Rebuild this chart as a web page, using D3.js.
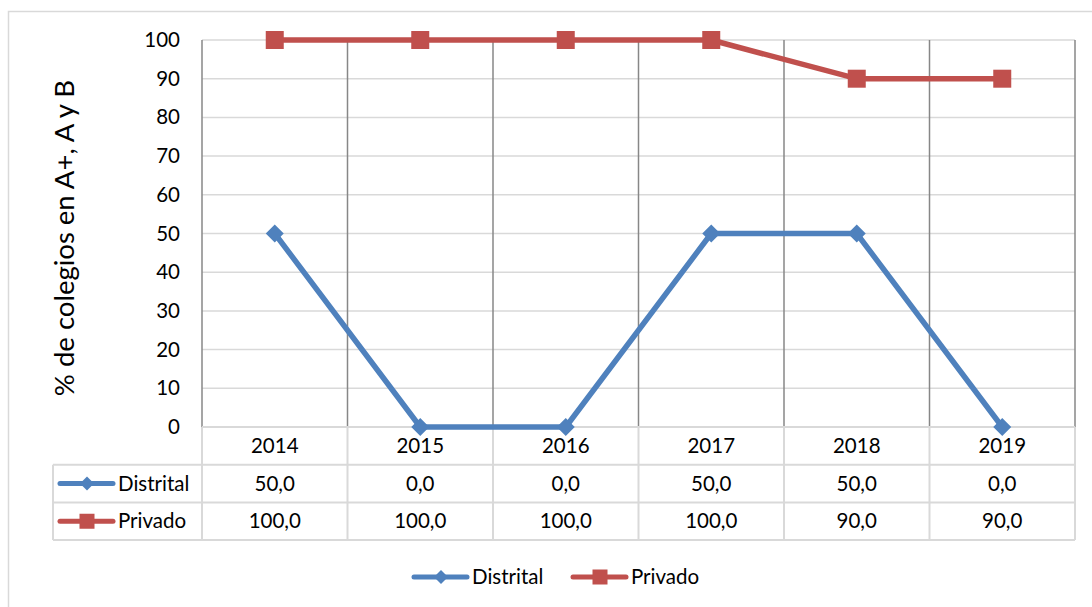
<html>
<head>
  <script src="https://d3js.org/d3.v7.min.js"></script>
  <style>
    body{ margin:0; background:#fff; }
    svg{ display:block; font-family: Lato, "Open Sans", sans-serif; }
  </style>
</head>
<body>
<script type="text/javascript">

  var years = ["2014", "2015", "2016", "2017", "2018", "2019"];
  var distrital = [50, 0, 0, 50, 50, 0];
  var privado = [100, 100, 100, 100, 90, 90];
  var seriesNames = ["Distrital", "Privado"];
  var seriesColors = ["#4F81BD", "#C0504D"];
  var yLabel = "% de colegios en A+, A y B";

  var series = [
    {name: seriesNames[0], values: distrital, color: seriesColors[0], marker: "diamond"},
    {name: seriesNames[1], values: privado, color: seriesColors[1], marker: "square"}
  ];

  var W = 1092, H = 607;
  var plot = {left: 202, right: 1075, top: 40, bottom: 427};
  var rowH = 37.7;
  var tableLeft = 53;
  var fontSize = 20.5;

  var svg = d3.select("body").append("svg")
      .attr("width", W)
      .attr("height", H);

  // outer chart frame
  svg.append("rect")
     .attr("x", 8.5).attr("y", 11.5)
     .attr("width", 1100).attr("height", 620)
     .attr("fill", "none").attr("stroke", "#d9d9d9").attr("stroke-width", 1.5);

  var xScale = d3.scaleBand().domain(years).range([plot.left, plot.right]).padding(0);
  var yScale = d3.scaleLinear().domain([0, 100]).range([plot.bottom, plot.top]);
  var cx = function(i){ return xScale(years[i]) + xScale.bandwidth() / 2; };

  // horizontal gridlines
  svg.append("g").selectAll("line")
     .data(yScale.ticks(10).filter(function(d){ return d > 0; }))
     .enter().append("line")
     .attr("x1", plot.left).attr("x2", plot.right)
     .attr("y1", function(d){ return yScale(d); })
     .attr("y2", function(d){ return yScale(d); })
     .attr("stroke", "#d9d9d9").attr("stroke-width", 1.5);

  // vertical category separators
  var bounds = years.map(function(y){ return xScale(y); }).concat([plot.right]);
  svg.append("g").selectAll("line")
     .data(bounds)
     .enter().append("line")
     .attr("x1", function(d){ return d; }).attr("x2", function(d){ return d; })
     .attr("y1", plot.top).attr("y2", plot.bottom)
     .attr("stroke", "#878787").attr("stroke-width", 1.5);

  // y axis
  var yAxis = d3.axisLeft(yScale).ticks(10).tickSize(0).tickPadding(22);
  var yG = svg.append("g")
     .attr("transform", "translate(" + plot.left + ",0)")
     .call(yAxis);
  yG.select(".domain").remove();
  yG.selectAll("text")
    .attr("font-size", fontSize).attr("fill", "#000")
    .attr("font-family", "Lato, sans-serif");

  // y label
  svg.append("text")
     .attr("transform", "translate(74,238) rotate(-90)")
     .attr("text-anchor", "middle")
     .attr("font-size", 27.5)
     .text(yLabel);

  // data table
  var table = svg.append("g");
  var tableColor = "#d9d9d9";
  var rowsY = [plot.bottom, plot.bottom + rowH, plot.bottom + 2 * rowH, plot.bottom + 3 * rowH];
  table.append("line")
       .attr("x1", plot.left).attr("x2", plot.right)
       .attr("y1", rowsY[0]).attr("y2", rowsY[0])
       .attr("stroke", tableColor).attr("stroke-width", 2);
  table.selectAll("line.h")
       .data(rowsY.slice(1))
       .enter().append("line")
       .attr("x1", tableLeft).attr("x2", plot.right)
       .attr("y1", function(d){ return d; }).attr("y2", function(d){ return d; })
       .attr("stroke", tableColor).attr("stroke-width", 2);
  table.selectAll("line.v")
       .data(bounds)
       .enter().append("line")
       .attr("x1", function(d){ return d; }).attr("x2", function(d){ return d; })
       .attr("y1", rowsY[0]).attr("y2", rowsY[3])
       .attr("stroke", tableColor).attr("stroke-width", 2);
  table.append("line")
       .attr("x1", tableLeft).attr("x2", tableLeft)
       .attr("y1", rowsY[1]).attr("y2", rowsY[3])
       .attr("stroke", tableColor).attr("stroke-width", 2);

  // year labels
  table.selectAll("text.year")
       .data(years)
       .enter().append("text")
       .attr("x", function(d, i){ return cx(i); })
       .attr("y", rowsY[0] + rowH / 2 + 7)
       .attr("text-anchor", "middle")
       .attr("font-size", fontSize)
       .text(function(d){ return d; });

  var fmt = function(v){ return v.toFixed(1).replace(".", ","); };

  function drawMarker(g, type, x, y, color, size){
    if (type === "diamond") {
      g.append("path")
       .attr("d", "M" + x + "," + (y - size) + "L" + (x + size) + "," + y + "L" + x + "," + (y + size) + "L" + (x - size) + "," + y + "Z")
       .attr("fill", color);
    } else {
      g.append("rect")
       .attr("x", x - size).attr("y", y - size)
       .attr("width", 2 * size).attr("height", 2 * size)
       .attr("fill", color);
    }
  }

  function legendKey(g, s, x, y){
    g.append("line")
     .attr("x1", x).attr("x2", x + 53)
     .attr("y1", y).attr("y2", y)
     .attr("stroke", s.color).attr("stroke-width", 5)
     .attr("stroke-linecap", "round");
    drawMarker(g, s.marker, x + 27, y, s.color, s.marker === "diamond" ? 7 : 7.5);
    g.append("text")
     .attr("x", x + 58).attr("y", y + 7)
     .attr("font-size", fontSize)
     .text(s.name);
  }

  series.forEach(function(s, k){
    var ry = rowsY[k + 1] + rowH / 2;
    legendKey(table, s, 60, ry);
    table.selectAll("text.val" + k)
         .data(s.values)
         .enter().append("text")
         .attr("x", function(d, i){ return cx(i); })
         .attr("y", ry + 7)
         .attr("text-anchor", "middle")
         .attr("font-size", fontSize)
         .text(function(d){ return fmt(d); });
  });

  // lines
  var line = d3.line()
      .x(function(d, i){ return cx(i); })
      .y(function(d){ return yScale(d); });

  series.forEach(function(s){
    var g = svg.append("g");
    g.append("path")
     .datum(s.values)
     .attr("d", line)
     .attr("fill", "none")
     .attr("stroke", s.color)
     .attr("stroke-width", 5.5)
     .attr("stroke-linejoin", "round");
    s.values.forEach(function(v, i){
      drawMarker(g, s.marker, cx(i), yScale(v), s.color, 9);
    });
  });

  // bottom legend
  var legend = svg.append("g");
  legendKey(legend, series[0], 414, 577);
  legendKey(legend, series[1], 573, 577);

</script>
</body>
</html>
